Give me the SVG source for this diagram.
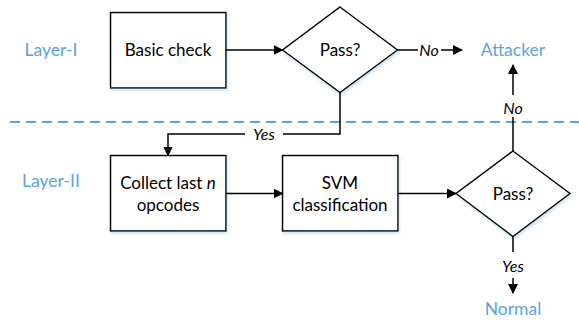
<svg xmlns="http://www.w3.org/2000/svg" width="579" height="320" viewBox="0 0 579 320">
<defs>
<marker id="arr" markerWidth="10" markerHeight="10" refX="9" refY="5" orient="auto" markerUnits="userSpaceOnUse">
<path d="M0,0 L10,5 L0,10 Z" fill="#000"/>
</marker>
<filter id="sh" x="-10%" y="-10%" width="120%" height="130%">
<feGaussianBlur in="SourceAlpha" stdDeviation="1.5"/>
<feOffset dx="1" dy="2" result="b"/>
<feFlood flood-color="#9dc3e6" flood-opacity="0.5"/>
<feComposite in2="b" operator="in"/>
<feMerge><feMergeNode/><feMergeNode in="SourceGraphic"/></feMerge>
</filter>
</defs>
<style>
.box{fill:#fff;stroke:#000;stroke-width:1.5;filter:url(#sh)}
.t{font-family:"Lato","Open Sans",sans-serif;font-size:17px;fill:#000;text-anchor:middle}
.lbl{font-family:"Lato","Open Sans",sans-serif;font-size:17.5px;fill:#5ba4e0;text-anchor:middle}
.it{font-family:"Lato","Open Sans",sans-serif;font-size:16px;font-style:italic;fill:#000;text-anchor:middle}
.c{fill:none;stroke:#000;stroke-width:1.5}
</style>
<rect width="579" height="320" fill="#fff"/>
<line x1="10" y1="122" x2="579" y2="122" stroke="#5ba4e0" stroke-width="2" stroke-dasharray="10,6"/>
<text class="lbl" x="51" y="56">Layer-I</text>
<text class="lbl" x="51" y="187">Layer-II</text>
<g id="basic"><rect class="box" x="110.5" y="12.5" width="115.5" height="75.5"/><text class="t" x="168" y="56">Basic check</text></g>
<g id="pass1"><polygon class="box" points="340,7 397.5,50 340,92.5 282.5,50"/><text class="t" x="340" y="56">Pass?</text></g>
<g id="collect"><rect class="box" x="110.5" y="155.5" width="115.5" height="75.5"/><text class="t" x="168" y="189">Collect last <tspan font-style="italic">n</tspan></text><text class="t" x="168" y="211">opcodes</text></g>
<g id="svm"><rect class="box" x="282.5" y="155.5" width="115.5" height="75.5"/><text class="t" x="340" y="189">SVM</text><text class="t" x="340" y="211">classification</text></g>
<g id="pass2"><polygon class="box" points="513,151 570,193.5 513,236.5 456,193.5"/><text class="t" x="513" y="200">Pass?</text></g>
<g id="attacker"><text class="lbl" x="513" y="56">Attacker</text></g>
<g id="normal"><text class="lbl" x="513" y="315">Normal</text></g>
<g id="connectors">
<line class="c" x1="226" y1="50" x2="282.5" y2="50" marker-end="url(#arr)"/>
<polyline class="c" points="397.5,50 418,50"/>
<text class="it" x="429" y="55.5">No</text>
<line class="c" x1="441" y1="50" x2="462" y2="50" marker-end="url(#arr)"/>
<polyline class="c" points="340,92.5 340,134 283,134"/>
<text class="it" x="264" y="139.5">Yes</text>
<polyline class="c" points="245,134 168,134 168,155.5" marker-end="url(#arr)"/>
<line class="c" x1="226" y1="193.5" x2="282.5" y2="193.5" marker-end="url(#arr)"/>
<line class="c" x1="398" y1="193.5" x2="456" y2="193.5" marker-end="url(#arr)"/>
<line class="c" x1="513" y1="151" x2="513" y2="117"/>
<text class="it" x="513" y="113.5">No</text>
<line class="c" x1="513" y1="95" x2="513" y2="65" marker-end="url(#arr)"/>
<line class="c" x1="513" y1="236.5" x2="513" y2="252"/>
<text class="it" x="513" y="271.5">Yes</text>
<line class="c" x1="513" y1="278" x2="513" y2="293" marker-end="url(#arr)"/>
</g>
</svg>
